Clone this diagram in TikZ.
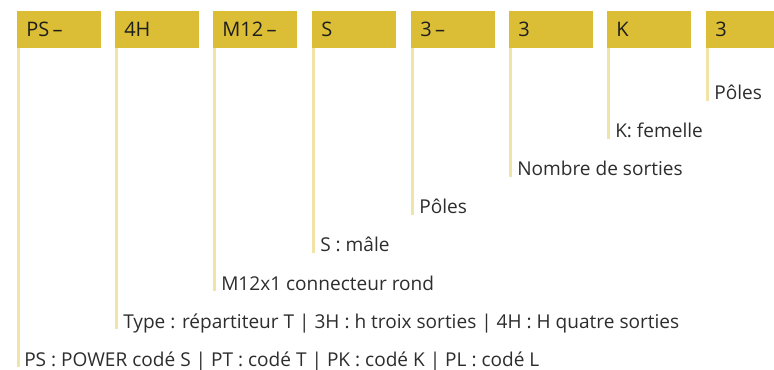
\documentclass[tikz,border=0pt]{standalone}
\usepackage{fontspec}
\setmainfont{Open Sans}
\usepackage{tikz}
\usetikzlibrary{calc,positioning}
\definecolor{codegold}{RGB}{219,190,53}
\definecolor{leadgold}{RGB}{242,227,166}
\definecolor{codetext}{RGB}{30,30,30}
\definecolor{labeltext}{RGB}{45,45,45}

\begin{document}
\begin{tikzpicture}[x=0.75pt, y=-0.75pt,
      codebox/.style={fill=codegold, draw=none, anchor=north west, minimum width=63pt, minimum height=27.5pt, inner sep=0pt, text=codetext, font=\fontsize{14}{16}\selectfont},
      codetxt/.style={anchor=base west, text=codetext, font=\fontsize{15}{17}\selectfont, inner sep=0pt},
      desc/.style={anchor=base west, inner sep=0pt, text=labeltext, font=\fontsize{14.3}{16}\selectfont},
      lead/.style={draw=leadgold, line width=1.9pt}
    ]
      \clip (0,0) rectangle (774,370);

      % code boxes along the top
      \node[codebox] (b1) at (17,11) {};
      \node[codebox] (b2) at (115,11) {};
      \node[codebox] (b3) at (213,11) {};
      \node[codebox] (b4) at (312,11) {};
      \node[codebox] (b5) at (411,11) {};
      \node[codebox] (b6) at (509,11) {};
      \node[codebox] (b7) at (607,11) {};
      \node[codebox] (b8) at (706,11) {};

      \node[codetxt] (c1) at (26,37) {PS\,–};
      \node[codetxt] (c2) at (124,37) {4H};
      \node[codetxt] (c3) at (222,37) {M12\,–};
      \node[codetxt] (c4) at (321,37) {S};
      \node[codetxt] (c5) at (420,37) {3\,–};
      \node[codetxt] (c6) at (518,37) {3};
      \node[codetxt] (c7) at (616,37) {K};
      \node[codetxt] (c8) at (715,37) {3};

      % descriptions, one step lower each
      \node[desc] (l1) at (24,366) {PS : POWER codé S | PT : codé T | PK : codé K | PL : codé L};
      \node[desc] (l2) at (123,328) {Type : répartiteur T | 3H : h troix sorties | 4H : H quatre sorties};
      \node[desc] (l3) at (221,290) {M12x1 connecteur rond};
      \node[desc] (l4) at (320,252) {S : mâle};
      \node[desc] (l5) at (419,214) {Pôles};
      \node[desc] (l6) at (517,176) {Nombre de sorties};
      \node[desc] (l7) at (615,138) {K: femelle};
      \node[desc] (l8) at (714,100) {Pôles};

      % leader lines
      \foreach \i in {1,...,8}
        \draw[lead] ($(b\i.south west)+(1.5,0)$) -- ($(b\i.south west |- l\i.base)+(1.5,1)$);
    \end{tikzpicture}
\end{document}
